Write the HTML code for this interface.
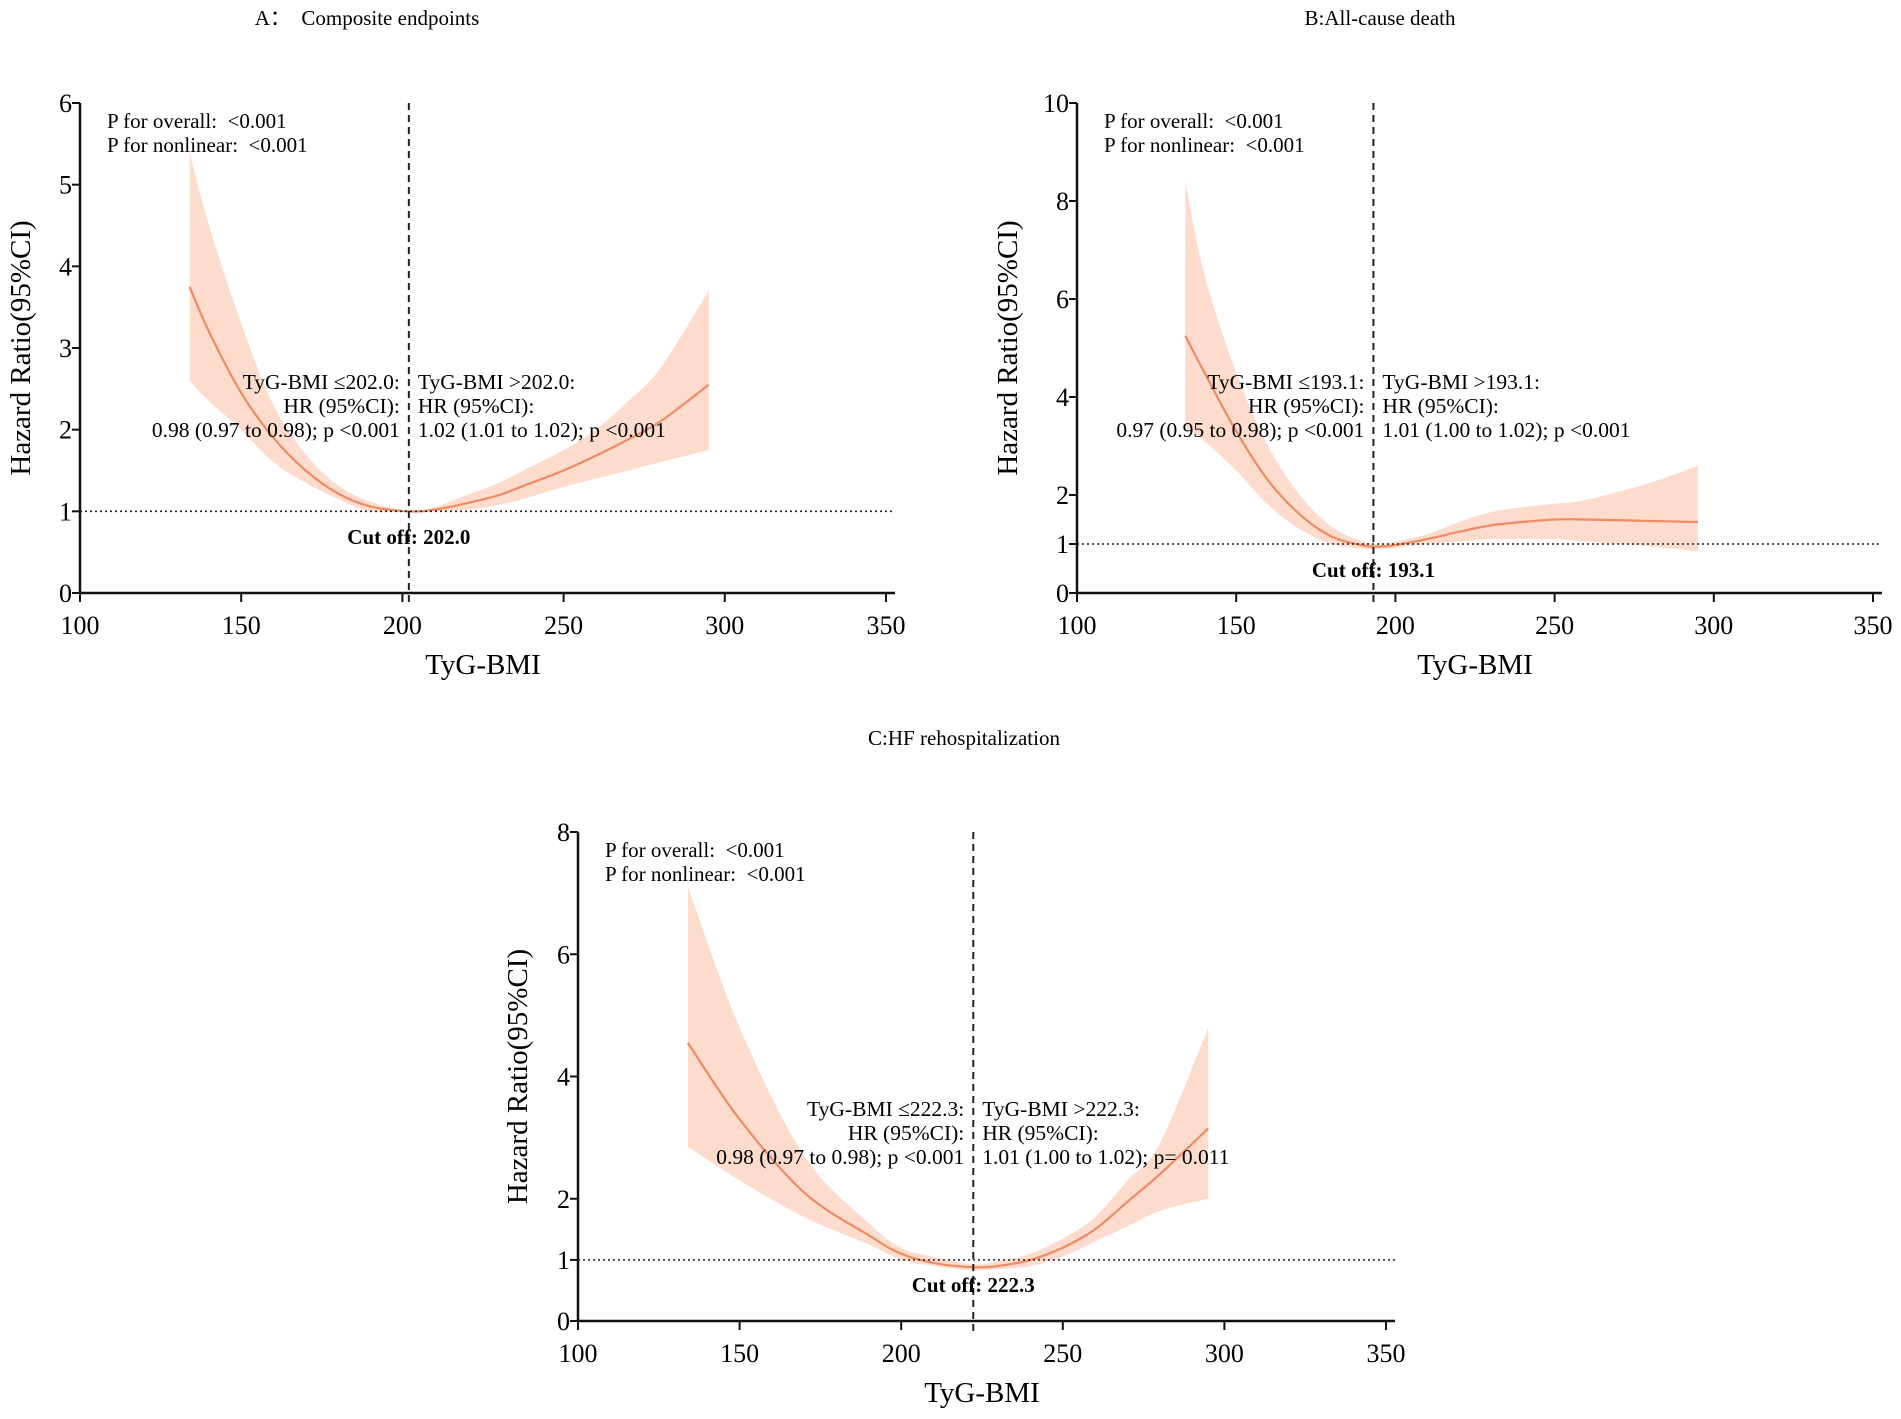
<!DOCTYPE html>
<html><head><meta charset="utf-8">
<style>
html,body{margin:0;padding:0;background:#fff;}
svg{display:block;font-family:"Liberation Serif","Times New Roman",serif;}
text{white-space:pre;}
</style></head>
<body>
<svg id="fig" width="1901" height="1419" viewBox="0 0 1901 1419" xmlns="http://www.w3.org/2000/svg">
<text x="367" y="25" font-size="21" text-anchor="middle">A：  Composite endpoints</text>
<text x="1380" y="25" font-size="21" text-anchor="middle">B:All-cause death</text>
<text x="964" y="745" font-size="21" text-anchor="middle">C:HF rehospitalization</text>
</svg>
<script>
// Panel A data
const aX=[134,140,150,160,170,180,190,202,210,220,230,240,250,260,270,280,295];
const aHR=[3.75,3.2,2.45,1.9,1.5,1.22,1.06,1.0,1.02,1.1,1.2,1.35,1.5,1.68,1.88,2.1,2.55];
const aLo=[2.6,2.35,2.0,1.6,1.35,1.15,1.0,1.0,1.0,1.02,1.08,1.18,1.3,1.4,1.5,1.6,1.75];
const aHi=[5.4,4.5,3.3,2.3,1.7,1.32,1.12,1.0,1.05,1.2,1.35,1.55,1.75,2.0,2.35,2.75,3.7];
// Panel B data
const bX=[134,140,150,160,170,180,190,195,200,210,220,230,240,250,260,280,295];
const bHR=[5.25,4.5,3.3,2.3,1.6,1.15,0.97,0.95,0.98,1.1,1.25,1.38,1.45,1.5,1.5,1.47,1.45];
const bLo=[3.4,3.1,2.5,1.8,1.3,1.0,0.9,0.9,0.92,1.0,1.05,1.1,1.1,1.1,1.05,0.95,0.85];
const bHi=[8.4,6.5,4.5,3.0,2.0,1.35,1.05,1.0,1.05,1.2,1.45,1.65,1.75,1.82,1.9,2.25,2.6];
// Panel C data
const cX=[134,150,170,190,200,210,222,230,240,250,260,270,280,295];
const cHR=[4.55,3.3,2.1,1.4,1.1,0.95,0.88,0.9,1.0,1.2,1.5,1.95,2.4,3.15];
const cLo=[2.85,2.3,1.7,1.25,1.0,0.9,0.83,0.85,0.9,1.05,1.3,1.55,1.8,2.0];
const cHi=[7.1,4.8,2.7,1.6,1.2,1.05,0.93,0.98,1.1,1.35,1.7,2.3,2.9,4.8];
const xTicks=[100,150,200,250,300,350];
const aYTicks=[0,1,2,3,4,5,6];
const bYTicks=[0,1,2,4,6,8,10];
const cYTicks=[0,1,2,4,6,8];

const NS="http://www.w3.org/2000/svg";
const svg=document.getElementById('fig');
function mk(tag,attrs,parent){const e=document.createElementNS(NS,tag);for(const k in attrs)e.setAttribute(k,attrs[k]);(parent||svg).appendChild(e);return e;}
function smooth(pts,start){
  let d=(start?'M':'L')+pts[0][0].toFixed(1)+','+pts[0][1].toFixed(1);
  for(let i=0;i<pts.length-1;i++){
    const p0=pts[i-1]||pts[i],p1=pts[i],p2=pts[i+1],p3=pts[i+2]||p2;
    const c1=[p1[0]+(p2[0]-p0[0])/6,p1[1]+(p2[1]-p0[1])/6];
    const c2=[p2[0]-(p3[0]-p1[0])/6,p2[1]-(p3[1]-p1[1])/6];
    d+='C'+c1[0].toFixed(1)+','+c1[1].toFixed(1)+' '+c2[0].toFixed(1)+','+c2[1].toFixed(1)+' '+p2[0].toFixed(1)+','+p2[1].toFixed(1);
  }
  return d;
}

function panel(p){
  const g=mk('g',{});
  
  
  const sx=v=>p.x0+(v-100)*(p.x1-p.x0)/250;
  const sy=v=>p.y0-(v)*(p.y0-p.yTop)/p.yMax;
  const up=p.X.map((x,i)=>[sx(x),sy(p.hi[i])]);
  const dn=p.X.map((x,i)=>[sx(x),sy(p.lo[i])]).reverse();
  const band=mk('path',{d:smooth(up,true)+smooth(dn,false)+'Z',fill:'#fddccd',stroke:'none'},g);
  
  
  const line=mk('path',{d:smooth(p.X.map((x,i)=>[sx(x),sy(p.hr[i])]),true),fill:'none',stroke:'#f08a62','stroke-width':2.2},g);
  
  
  const ref=mk('line',{x1:p.x0,x2:p.x1+9,y1:sy(1),y2:sy(1),stroke:'#222','stroke-width':1.6,'stroke-dasharray':'2,3'},g);
  
  
  const cut=mk('line',{x1:sx(p.cut),x2:sx(p.cut),y1:p.yTop,y2:p.y0+14,stroke:'#222','stroke-width':2,'stroke-dasharray':'7,5'},g);
  
  
  const ya=mk('line',{x1:p.x0,x2:p.x0,y1:p.yTop,y2:p.y0,stroke:'#111','stroke-width':2.5},g);
  
  
  const xa=mk('line',{x1:p.x0,x2:p.x1+9,y1:p.y0,y2:p.y0,stroke:'#111','stroke-width':2.5},g);
  
  
  p.yt.forEach(v=>{
    mk('line',{x1:p.x0-8,x2:p.x0,y1:sy(v),y2:sy(v),stroke:'#111','stroke-width':2},g);
    const t=mk('text',{x:p.x0-8,y:sy(v)+9,'font-size':26,'text-anchor':'end'},g);
    t.textContent=v;
    
    
  });
  xTicks.forEach(v=>{
    mk('line',{x1:sx(v),x2:sx(v),y1:p.y0,y2:p.y0+9,stroke:'#111','stroke-width':2},g);
    const t=mk('text',{x:sx(v),y:p.y0+41,'font-size':26,'text-anchor':'middle'},g);
    t.textContent=v;
    
    
  });
  const xt=mk('text',{x:(p.x0+p.x1)/2,y:p.y0+81,'font-size':29,'text-anchor':'middle'},g);
  xt.textContent='TyG-BMI';
  
  
  const yc=(p.y0+p.yTop)/2;
  const yt=mk('text',{x:p.yTitleX,y:yc,'font-size':29,'text-anchor':'middle',transform:'rotate(-90 '+p.yTitleX+' '+yc+')'},g);
  yt.textContent='Hazard Ratio(95%CI)';
  
  
  const p1=mk('text',{x:p.x0+27,y:p.yTop+25,'font-size':21},g);
  p1.textContent='P for overall:  <0.001';
  
  
  const p2=mk('text',{x:p.x0+27,y:p.yTop+49,'font-size':21},g);
  p2.textContent='P for nonlinear:  <0.001';
  
  
  const cx=sx(p.cut);
  p.left.forEach((s,i)=>{
    const t=mk('text',{x:cx-9,y:p.annY+24*i,'font-size':21.5,'text-anchor':'end'},g);
    t.textContent=s;
    
    
  });
  p.right.forEach((s,i)=>{
    const t=mk('text',{x:cx+9,y:p.annY+24*i,'font-size':21.5},g);
    t.textContent=s;
    
    
  });
  const co=mk('text',{x:cx,y:p.cutY,'font-size':21,'font-weight':'bold','text-anchor':'middle'},g);
  co.textContent='Cut off: '+p.cut.toFixed(1);
  
  
}
panel({id:'a',x0:80,x1:886,y0:593,yTop:103,yMax:6,yt:aYTicks,X:aX,hr:aHR,lo:aLo,hi:aHi,cut:202.0,yTitleX:30,annY:389,cutY:544,
  left:['TyG-BMI ≤202.0:','HR (95%CI):','0.98 (0.97 to 0.98); p <0.001'],right:['TyG-BMI >202.0:','HR (95%CI):','1.02 (1.01 to 1.02); p <0.001']});
panel({id:'b',x0:1077,x1:1873,y0:593,yTop:103,yMax:10,yt:bYTicks,X:bX,hr:bHR,lo:bLo,hi:bHi,cut:193.1,yTitleX:1017,annY:389,cutY:577,
  left:['TyG-BMI ≤193.1:','HR (95%CI):','0.97 (0.95 to 0.98); p <0.001'],right:['TyG-BMI >193.1:','HR (95%CI):','1.01 (1.00 to 1.02); p <0.001']});
panel({id:'c',x0:578,x1:1386,y0:1321,yTop:832,yMax:8,yt:cYTicks,X:cX,hr:cHR,lo:cLo,hi:cHi,cut:222.3,yTitleX:527,annY:1116,cutY:1292,
  left:['TyG-BMI ≤222.3:','HR (95%CI):','0.98 (0.97 to 0.98); p <0.001'],right:['TyG-BMI >222.3:','HR (95%CI):','1.01 (1.00 to 1.02); p= 0.011']});
</script>
</body></html>
